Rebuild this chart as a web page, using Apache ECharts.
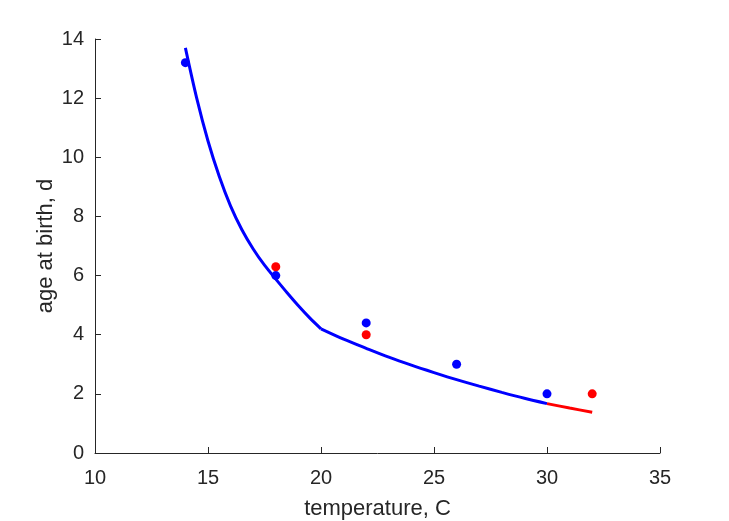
<!DOCTYPE html>
<html>
<head>
<meta charset="utf-8">
<script src="https://cdn.jsdelivr.net/npm/echarts@6/dist/echarts.min.js"></script>
<style>
html,body{margin:0;padding:0;background:#fff;}
#chart{width:729px;height:521px;}
</style>
</head>
<body>
<div id="chart"></div>
<script>
// observed data
const blueTemp = [14, 18, 22, 26, 30];
const blueAge  = [13.2, 6.0, 4.4, 3.0, 2.0];
const redTemp  = [18, 22, 32];
const redAge   = [6.3, 4.0, 2.0];
// fitted curve, two pieces meeting at 20 C
const fitTempLow  = [14, 14.5, 15, 15.5, 16, 16.5, 17, 17.5, 18, 18.5, 19, 19.5, 20];
const fitAgeLow   = [13.7, 12.0, 10.55, 9.35, 8.35, 7.55, 6.9, 6.35, 5.88, 5.42, 4.98, 4.57, 4.2];
const fitTempHigh = [20, 21, 22, 23, 24, 25, 26, 27, 28, 29, 30];
const fitAgeHigh  = [4.2, 3.85, 3.54, 3.24, 2.97, 2.72, 2.48, 2.26, 2.05, 1.85, 1.67];
const fitTempRed  = [30, 31, 32];
const fitAgeRed   = [1.67, 1.52, 1.38];
const xTicks = [10, 15, 20, 25, 30, 35];
const yTicks = [0, 2, 4, 6, 8, 10, 12, 14];

const zip = (a, b) => a.map((v, i) => [v, b[i]]);
const axisCol = '#262626';
const font = 'Liberation Sans, Arial, sans-serif';

const chart = echarts.init(document.getElementById('chart'), null, {renderer: 'canvas'});
const lineSeries = (t, a, col) => ({
  type: 'line', data: zip(t, a), showSymbol: false, smooth: 0.3,
  lineStyle: {color: col, width: 3}, z: 3
});
chart.setOption({
  animation: false,
  backgroundColor: '#ffffff',
  grid: {left: 95, right: 69, top: 39, bottom: 68, containLabel: false, outerBoundsMode: 'none'},
  xAxis: {
    type: 'value', min: xTicks[0], max: xTicks[xTicks.length - 1], interval: 5,
    name: 'temperature, C', nameLocation: 'middle', nameGap: 45, nameMoveOverlap: false,
    nameTextStyle: {color: axisCol, fontSize: 22, fontFamily: font},
    axisLine: {show: true, onZero: false, lineStyle: {color: axisCol, width: 1}},
    axisTick: {show: true, inside: true, length: 6, lineStyle: {color: axisCol}},
    axisLabel: {color: axisCol, fontSize: 20, fontFamily: font, margin: 15},
    splitLine: {show: false}
  },
  yAxis: {
    type: 'value', min: yTicks[0], max: yTicks[yTicks.length - 1], interval: 2,
    name: 'age at birth, d', nameLocation: 'middle', nameGap: 38, nameMoveOverlap: false,
    nameTextStyle: {color: axisCol, fontSize: 22, fontFamily: font},
    axisLine: {show: true, onZero: false, lineStyle: {color: axisCol, width: 1}},
    axisTick: {show: true, inside: true, length: 6, lineStyle: {color: axisCol}},
    axisLabel: {color: axisCol, fontSize: 20, fontFamily: font, margin: 11},
    splitLine: {show: false}
  },
  series: [
    {type: 'scatter', data: zip(blueTemp, blueAge), symbol: 'circle', symbolSize: 9,
     itemStyle: {color: '#0000ff', opacity: 1}, z: 2},
    {type: 'scatter', data: zip(redTemp, redAge), symbol: 'circle', symbolSize: 9,
     itemStyle: {color: '#ff0000', opacity: 1}, z: 2},
    lineSeries(fitTempLow, fitAgeLow, '#0000ff'),
    lineSeries(fitTempHigh, fitAgeHigh, '#0000ff'),
    lineSeries(fitTempRed, fitAgeRed, '#ff0000')
  ]
});
</script>
</body>
</html>
